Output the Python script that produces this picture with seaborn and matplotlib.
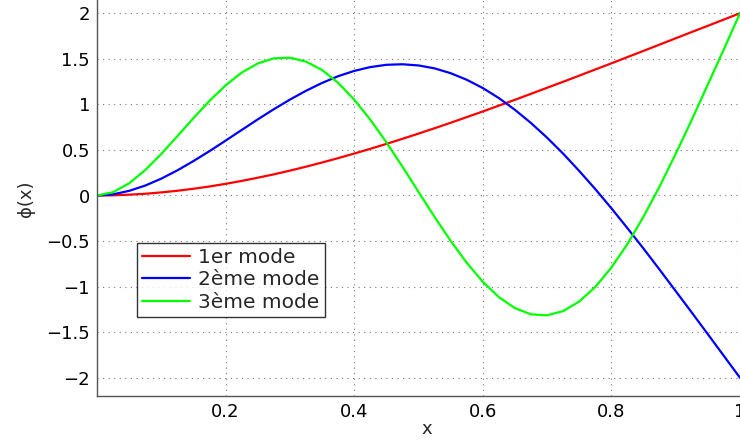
import numpy as np
import pandas as pd
import seaborn as sns
import matplotlib
matplotlib.use("Agg")
import matplotlib.pyplot as plt

# abscissa (step 0.025)
x = [0.000, 0.025, 0.050, 0.075, 0.100, 0.125, 0.150, 0.175, 0.200, 0.225,
     0.250, 0.275, 0.300, 0.325, 0.350, 0.375, 0.400, 0.425, 0.450, 0.475,
     0.500, 0.525, 0.550, 0.575, 0.600, 0.625, 0.650, 0.675, 0.700, 0.725,
     0.750, 0.775, 0.800, 0.825, 0.850, 0.875, 0.900, 0.925, 0.950, 0.975,
     1.000]

# mode shapes
mode1 = [0.000, 0.002, 0.009, 0.019, 0.034, 0.052, 0.074, 0.099, 0.128, 0.160,
         0.195, 0.232, 0.273, 0.316, 0.362, 0.410, 0.460, 0.512, 0.566, 0.622,
         0.679, 0.738, 0.798, 0.860, 0.922, 0.986, 1.050, 1.116, 1.182, 1.248,
         1.315, 1.383, 1.450, 1.519, 1.587, 1.656, 1.725, 1.794, 1.862, 1.931,
         2.000]
mode2 = [0.000, 0.013, 0.051, 0.109, 0.185, 0.276, 0.378, 0.487, 0.602, 0.719,
         0.835, 0.947, 1.052, 1.149, 1.235, 1.309, 1.367, 1.409, 1.434, 1.440,
         1.427, 1.395, 1.342, 1.270, 1.179, 1.069, 0.940, 0.795, 0.634, 0.459,
         0.269, 0.070, -0.140, -0.359, -0.583, -0.814, -1.049, -1.284, -1.522, -1.761,
         -2.000]
mode3 = [0.000, 0.036, 0.134, 0.279, 0.456, 0.651, 0.849, 1.039, 1.209, 1.348,
         1.449, 1.505, 1.512, 1.469, 1.377, 1.236, 1.052, 0.832, 0.584, 0.317,
         0.040, -0.235, -0.498, -0.738, -0.947, -1.115, -1.236, -1.304, -1.315, -1.268,
         -1.163, -1.003, -0.790, -0.532, -0.231, 0.099, 0.458, 0.830, 1.218, 1.606,
         2.000]

labels = ["1er mode", "2ème mode", "3ème mode"]
colors = ["#ff0000", "#0000ff", "#00ff00"]

xticks = [0.2, 0.4, 0.6, 0.8, 1.0]
xticklabels = ["0.2", "0.4", "0.6", "0.8", "1"]
yticks = [-2, -1.5, -1, -0.5, 0, 0.5, 1, 1.5, 2]
yticklabels = ["\u22122", "\u22121.5", "\u22121", "\u22120.5", "0", "0.5", "1", "1.5", "2"]

df = pd.concat([
    pd.DataFrame({"x": x, "phi": m, "mode": lab})
    for m, lab in zip([mode1, mode2, mode3], labels)
])

sns.set_style("white")
plt.rcParams["font.family"] = ["DejaVu Sans"]

fig = plt.figure(figsize=(7.4, 4.44), dpi=100)
ax = fig.add_axes([97 / 740, 48 / 444, 643 / 740, 401 / 444])

sns.lineplot(data=df, x="x", y="phi", hue="mode", palette=colors,
             hue_order=labels, sort=False, estimator=None, linewidth=1.6, ax=ax)

ax.set_xlim(0, 1)
ax.set_ylim(-2.2, 2.2)
ax.set_xticks(xticks)
ax.set_xticklabels(xticklabels)
ax.set_yticks(yticks)
ax.set_yticklabels(yticklabels)
ax.tick_params(direction="in", length=4, width=0.8, labelsize=13,
               colors="#444444", labelcolor="black", pad=5)
ax.grid(True, linestyle=(0, (1, 4)), color="#777777", linewidth=0.8)

for side in ["top", "right"]:
    ax.spines[side].set_visible(False)
for side in ["left", "bottom"]:
    ax.spines[side].set_color("#555555")
    ax.spines[side].set_linewidth(1.0)

ax.set_xlabel("x", fontsize=13, va="center")
ax.xaxis.set_label_coords(427 / 740, 1 - 429 / 444, transform=fig.transFigure)
ax.set_ylabel("\u03d5(x)", fontsize=13, va="center")
ax.yaxis.set_label_coords(26 / 740, 1 - 199 / 444, transform=fig.transFigure)

leg = ax.legend(loc="upper left", bbox_to_anchor=(137 / 740, 1 - 243 / 444),
                bbox_transform=fig.transFigure, borderaxespad=0, fontsize=14.5,
                fancybox=False, frameon=True, handlelength=2.4, handletextpad=0.4,
                borderpad=0.25, labelspacing=0.17)
leg.get_frame().set_edgecolor("black")
leg.get_frame().set_linewidth(1.0)
for line in leg.get_lines():
    line.set_linewidth(1.6)

fig.savefig("out.png", dpi=100)
